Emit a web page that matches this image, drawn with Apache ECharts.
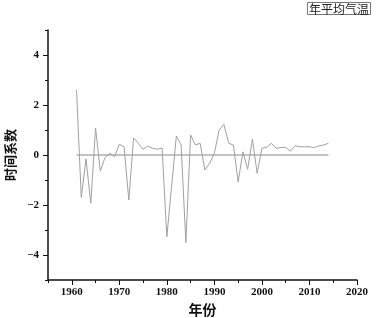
<!DOCTYPE html>
<html>
<head>
<meta charset="utf-8">
<script src="https://cdn.jsdelivr.net/npm/echarts@6/dist/echarts.min.js"></script>
<style>
  html, body { margin: 0; padding: 0; background: #fff; }
  #chart { width: 378px; height: 318px; }
</style>
</head>
<body>
<div id="chart"></div>
<script>
// 年份 1961-2014
const years = []
for (let y = 1961; y <= 2014; y++) years.push(y)

// 时间系数
const coef = [
  2.6, -1.7, -0.16, -1.93, 1.08, -0.64, -0.1, 0.07, -0.07, 0.43,
  0.33, -1.8, 0.68, 0.47, 0.23, 0.36, 0.27, 0.23, 0.28, -3.27,
  -1.25, 0.76, 0.4, -3.5, 0.8, 0.4, 0.47, -0.6, -0.33, 0.07,
  1.0, 1.23, 0.47, 0.4, -1.08, 0.13, -0.57, 0.64, -0.73, 0.27,
  0.3, 0.47, 0.27, 0.3, 0.3, 0.15, 0.37, 0.33, 0.33, 0.33,
  0.29, 0.37, 0.4, 0.47
]

const xMajorTicks = [1960, 1970, 1980, 1990, 2000, 2010, 2020]
const yMajorTicks = [-4, -2, 0, 2, 4]

const numFont = 'Liberation Serif'
const cjkFont = 'Noto Sans CJK SC'

const myChart = echarts.init(document.getElementById('chart'))

const fmtNum = v => String(v).replace('-', '\u2212')

const option = {
  animation: false,
  title: {
    text: '年平均气温',
    right: 7,
    top: 2,
    padding: [1, 2, 0, 2],
    borderColor: '#777',
    borderWidth: 1,
    textStyle: { fontFamily: cjkFont, fontSize: 12, fontWeight: 'normal', color: '#222' }
  },
  grid: { left: 48, right: 21, top: 30, bottom: 38, outerBoundsMode: 'none', containLabel: false },
  xAxis: [{
    type: 'value',
    min: 1955,
    max: 2020,
    interval: 5,
    name: '年份',
    nameLocation: 'middle',
    nameGap: 22,
    nameTextStyle: { fontFamily: cjkFont, fontSize: 14, fontWeight: 'bold', color: '#111' },
    axisLine: { onZero: false, lineStyle: { color: '#111', width: 1.5 } },
    axisTick: { length: 3, lineStyle: { color: '#111' } },
    axisLabel: {
      fontFamily: numFont, fontSize: 11, fontWeight: 'bold', color: '#111', margin: 7,
      formatter: v => (v % 10 === 0 ? String(v) : '')
    },
    splitLine: { show: false }
  }, {
    type: 'value',
    min: 1955,
    max: 2020,
    position: 'bottom',
    axisLine: { show: false, onZero: false },
    axisTick: { customValues: xMajorTicks, length: 5, lineStyle: { color: '#111' } },
    axisLabel: { show: false },
    splitLine: { show: false }
  }],
  yAxis: [{
    type: 'value',
    min: -5,
    max: 5,
    interval: 1,
    name: '时间系数',
    nameLocation: 'middle',
    nameGap: 24,
    nameRotate: 90,
    nameTextStyle: { fontFamily: cjkFont, fontSize: 13, fontWeight: 'bold', color: '#111' },
    axisLine: { show: true, onZero: false, lineStyle: { color: '#111', width: 1.5 } },
    axisTick: { show: true, length: 3, lineStyle: { color: '#111' } },
    axisLabel: {
      fontFamily: numFont, fontSize: 11, fontWeight: 'bold', color: '#111', margin: 9,
      formatter: v => (v % 2 === 0 ? fmtNum(v) : '')
    },
    splitLine: { show: false }
  }, {
    type: 'value',
    min: -5,
    max: 5,
    position: 'left',
    axisLine: { show: false, onZero: false },
    axisTick: { show: true, customValues: yMajorTicks, length: 5, lineStyle: { color: '#111' } },
    axisLabel: { show: false },
    splitLine: { show: false }
  }],
  series: [{
    type: 'line',
    data: years.map(y => [y, 0]),
    showSymbol: false,
    lineStyle: { color: '#888', width: 1.2 },
    z: 1
  }, {
    type: 'line',
    data: years.map((y, i) => [y, coef[i]]),
    showSymbol: false,
    lineStyle: { color: '#a0a0a0', width: 1 },
    z: 2
  }]
}

myChart.setOption(option)
window.addEventListener('resize', () => {
  if (myChart) myChart.resize()
})
</script>
</body>
</html>
